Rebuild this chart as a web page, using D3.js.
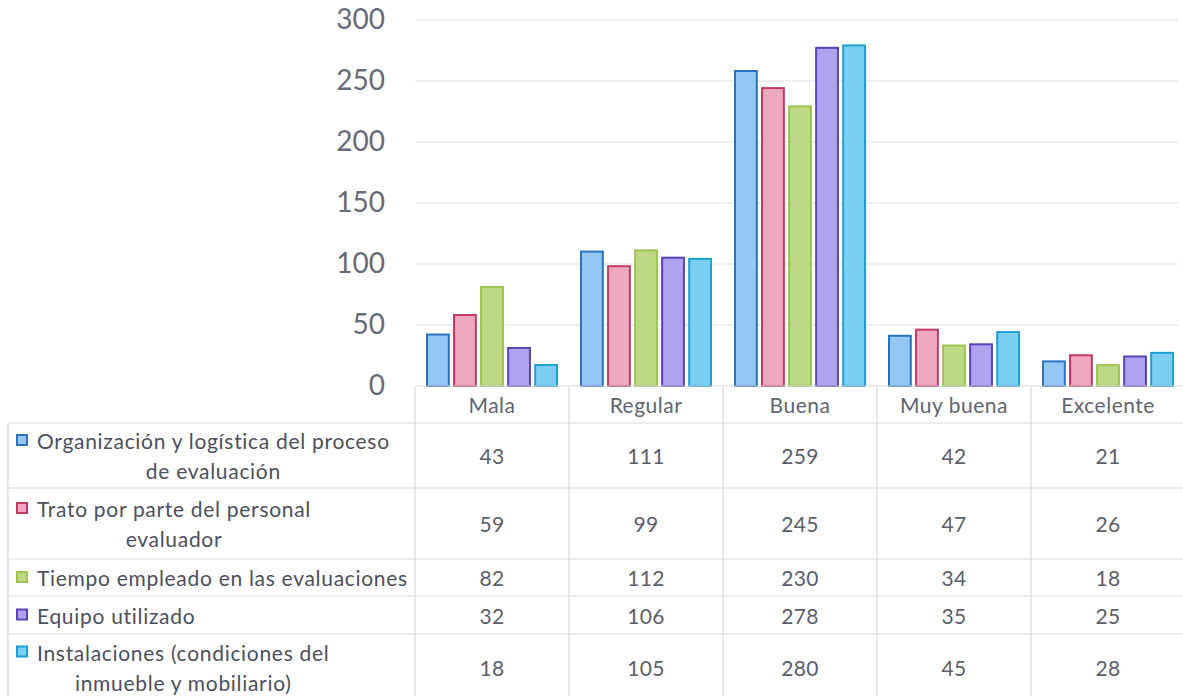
<!DOCTYPE html>
<html>
<head>
<meta charset="utf-8">
<script src="https://cdn.jsdelivr.net/npm/d3@7"></script>
<style>
  html, body { margin: 0; padding: 0; background: #ffffff; }
  svg { display: block; }
  text { font-family: Lato, "Open Sans", sans-serif; }
</style>
</head>
<body>
<svg id="chart" width="1183" height="696"></svg>
<script>
// ---- data ----
const categories = ["Mala", "Regular", "Buena", "Muy buena", "Excelente"];
const seriesLabels = [
  ["Organización y logística del proceso", "de evaluación"],
  ["Trato por parte del personal", "evaluador"],
  ["Tiempo empleado en las evaluaciones"],
  ["Equipo utilizado"],
  ["Instalaciones (condiciones del", "inmueble y mobiliario)"]
];
const organizacion = [43, 111, 259, 42, 21];
const trato = [59, 99, 245, 47, 26];
const tiempo = [82, 112, 230, 34, 18];
const equipo = [32, 106, 278, 35, 25];
const instalaciones = [18, 105, 280, 45, 28];
const yTicks = [0, 50, 100, 150, 200, 250, 300];

const seriesValues = [organizacion, trato, tiempo, equipo, instalaciones];
const fills = ["#94c7f3", "#eea9c1", "#bed985", "#afa3ef", "#7bcff2"];
const strokes = ["#2b72c2", "#c13a60", "#9cc44e", "#5b42b9", "#209fd6"];

// ---- layout ----
const svg = d3.select("#chart");
const plotLeft = 415, plotRight = 1185, gridRight = 1178;
const yTop = 20, yBase = 386;
const rowEdges = [386, 423, 488, 559, 596, 634, 700];
const tableLeft = 8;

const y = d3.scaleLinear().domain([0, 300]).range([yBase, yTop]);
const x = d3.scaleBand().domain(categories).range([plotLeft, plotRight]).padding(0);
const xi = d3.scaleBand().domain(d3.range(seriesValues.length))
  .range([11, x.bandwidth() - 11]).paddingInner(0.12);

// gridlines
svg.append("g").selectAll("line").data(yTicks.filter(d => d > 0)).join("line")
  .attr("x1", plotLeft).attr("x2", gridRight)
  .attr("y1", d => y(d)).attr("y2", d => y(d))
  .attr("stroke", "#e2e2e6").attr("stroke-width", 1.2);

// y axis labels via d3 axis
const yAxis = d3.axisLeft(y).tickValues(yTicks).tickSize(0).tickPadding(0);
const gy = svg.append("g").attr("transform", "translate(385,0)").call(yAxis);
gy.select(".domain").remove();
gy.selectAll("text")
  .attr("font-family", "Lato, sans-serif")
  .attr("font-size", 28)
  .attr("fill", "#676a78");

// bars
const groups = svg.append("g").selectAll("g").data(seriesValues).join("g");
groups.each(function(vals, si) {
  d3.select(this).selectAll("rect").data(vals).join("rect")
    .attr("x", (d, ci) => x(categories[ci]) + xi(si) + 1)
    .attr("y", d => y(d) + 1)
    .attr("width", xi.bandwidth() - 2)
    .attr("height", d => yBase - y(d) - 1)
    .attr("fill", fills[si])
    .attr("stroke", strokes[si])
    .attr("stroke-width", 2);
});

// ---- table ----
const tbl = svg.append("g");
const lineColor = "#dadbe0";
// top border of header (category cells)
tbl.append("line").attr("x1", plotLeft).attr("x2", plotRight)
  .attr("y1", rowEdges[0]).attr("y2", rowEdges[0])
  .attr("stroke", lineColor).attr("stroke-width", 1.2);
// horizontal lines for rows
tbl.selectAll("line.h").data(rowEdges.slice(1, -1)).join("line")
  .attr("class", "h")
  .attr("x1", tableLeft).attr("x2", plotRight)
  .attr("y1", d => d).attr("y2", d => d)
  .attr("stroke", lineColor).attr("stroke-width", 1.2);
// vertical lines
tbl.append("line").attr("x1", tableLeft).attr("x2", tableLeft)
  .attr("y1", rowEdges[1]).attr("y2", rowEdges[rowEdges.length - 1])
  .attr("stroke", lineColor).attr("stroke-width", 1.2);
tbl.selectAll("line.v").data(categories).join("line")
  .attr("class", "v")
  .attr("x1", d => x(d)).attr("x2", d => x(d))
  .attr("y1", rowEdges[0]).attr("y2", rowEdges[rowEdges.length - 1])
  .attr("stroke", lineColor).attr("stroke-width", 1.2);

// header labels
tbl.selectAll("text.cat").data(categories).join("text")
  .attr("class", "cat")
  .attr("x", d => x(d) + x.bandwidth() / 2)
  .attr("y", (rowEdges[0] + rowEdges[1]) / 2)
  .attr("text-anchor", "middle").attr("dominant-baseline", "central")
  .attr("font-size", 21).attr("letter-spacing", 0.5)
  .attr("fill", "#62646f")
  .text(d => d);

// values
seriesValues.forEach((vals, si) => {
  const cy = (rowEdges[si + 1] + rowEdges[si + 2]) / 2;
  tbl.selectAll("text.v" + si).data(vals).join("text")
    .attr("class", "v" + si)
    .attr("x", (d, ci) => x(categories[ci]) + x.bandwidth() / 2)
    .attr("y", cy)
    .attr("text-anchor", "middle").attr("dominant-baseline", "central")
    .attr("font-size", 21).attr("letter-spacing", 0.3)
    .attr("fill", "#5c5e6a")
    .text(d => d);
});

// series labels with legend markers
const lineH = 30;
seriesLabels.forEach((lines, si) => {
  const cy = (rowEdges[si + 1] + rowEdges[si + 2]) / 2;
  const firstY = cy - (lines.length - 1) * lineH / 2;
  const t1 = tbl.append("text")
    .attr("x", 37).attr("y", firstY)
    .attr("dominant-baseline", "central")
    .attr("font-size", 21).attr("letter-spacing", 0.7)
    .attr("fill", "#4d4f5c")
    .text(lines[0]);
  const w1 = t1.node().getComputedTextLength();
  tbl.append("rect")
    .attr("x", 17).attr("y", firstY - 5.5)
    .attr("width", 10).attr("height", 10)
    .attr("fill", fills[si]).attr("stroke", strokes[si]).attr("stroke-width", 2);
  for (let k = 1; k < lines.length; k++) {
    tbl.append("text")
      .attr("x", 37 + w1 / 2).attr("y", firstY + k * lineH)
      .attr("text-anchor", "middle").attr("dominant-baseline", "central")
      .attr("font-size", 21).attr("letter-spacing", 0.7)
      .attr("fill", "#4d4f5c")
      .text(lines[k]);
  }
});
</script>
</body>
</html>
